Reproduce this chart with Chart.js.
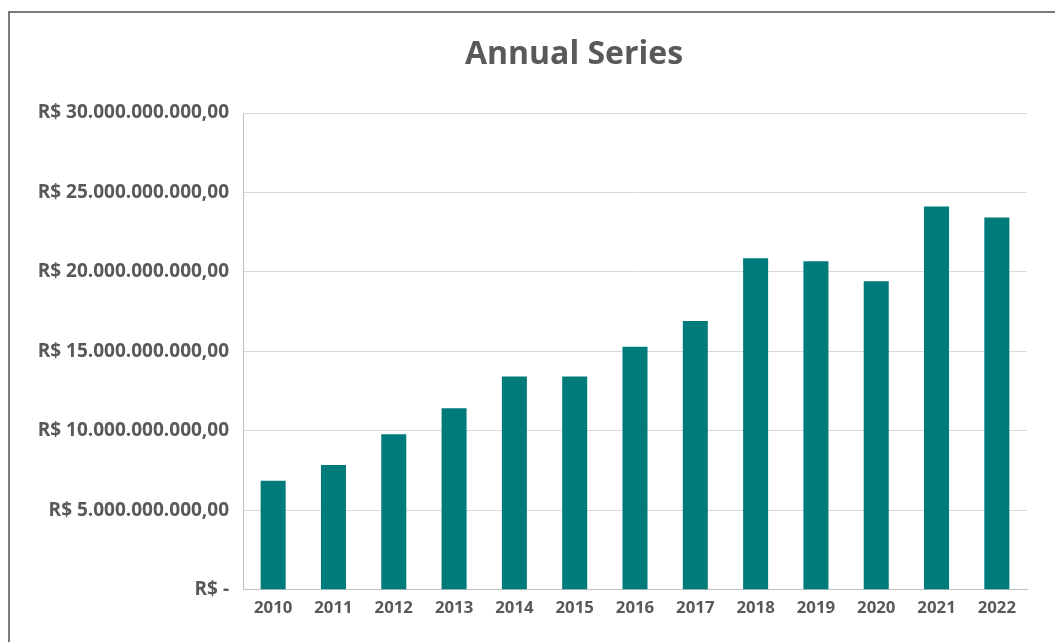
<!DOCTYPE html>
<html>
<head>
<meta charset="utf-8">
<script src="https://cdn.jsdelivr.net/npm/chart.js@4/dist/chart.umd.min.js"></script>
<style>
  html, body { margin: 0; padding: 0; background: #ffffff; }
  #wrap { position: relative; width: 1055px; height: 642px; overflow: hidden; }
  #frame { position: absolute; left: 8px; top: 11px; width: 1100px; height: 700px;
           border-left: 2px solid #7a7a7a; border-top: 2px solid #7a7a7a; box-sizing: border-box; }
  #c { position: absolute; left: 0; top: 0; }
  #title { position: absolute; left: 374px; width: 400px; top: 32px; height: 40px; line-height: 40px;
           text-align: center; font-family: "Open Sans", sans-serif; font-weight: 700; font-size: 32px;
           color: #595959; }
</style>
</head>
<body>
<div id="wrap">
  <div id="frame"></div>
  <canvas id="c" width="1055" height="642"></canvas>
  <div id="title"></div>
</div>
<script>
const categories = ['2010','2011','2012','2013','2014','2015','2016','2017','2018','2019','2020','2021','2022'];
const seriesValues = [6.86e9, 7.86e9, 9.79e9, 11.42e9, 13.42e9, 13.42e9, 15.29e9, 16.92e9, 20.86e9, 20.67e9, 19.42e9, 24.11e9, 23.42e9];
const yTickValues = [0, 5e9, 10e9, 15e9, 20e9, 25e9, 30e9];
const yTickLabels = ['R$ -', 'R$ 5.000.000.000,00', 'R$ 10.000.000.000,00', 'R$ 15.000.000.000,00',
                     'R$ 20.000.000.000,00', 'R$ 25.000.000.000,00', 'R$ 30.000.000.000,00'];
const titleText = 'Annual Series';

document.getElementById('title').textContent = titleText;

const textColor = '#595959';
const fontFamily = '"Open Sans", sans-serif';

new Chart(document.getElementById('c'), {
  type: 'bar',
  data: {
    labels: categories,
    datasets: [{
      data: seriesValues,
      backgroundColor: '#007B7B',
      borderWidth: 0,
      barPercentage: 0.415,
      categoryPercentage: 1.0
    }]
  },
  options: {
    responsive: false,
    animation: false,
    devicePixelRatio: 1,
    layout: { padding: { left: 0, right: 28, top: 113, bottom: 16 } },
    plugins: {
      legend: { display: false },
      tooltip: { enabled: false },
      title: { display: false }
    },
    scales: {
      x: {
        grid: { display: false, drawTicks: false },
        border: { display: true, color: '#bfbfbf', width: 1 },
        ticks: {
          color: textColor,
          padding: 8,
          maxRotation: 0,
          font: { family: fontFamily, size: 16.8, weight: 'bold', lineHeight: 1.2 }
        }
      },
      y: {
        min: 0,
        max: 30e9,
        afterBuildTicks: (scale) => { scale.ticks = yTickValues.map(v => ({ value: v })); },
        afterFit: (scale) => { scale.width = 243; },
        grid: { color: '#d9d9d9', lineWidth: 1, drawTicks: false },
        border: { display: true, color: '#bfbfbf', width: 1 },
        ticks: {
          color: textColor,
          padding: 14,
          font: { family: fontFamily, size: 19, weight: 'bold', lineHeight: 1.2 },
          callback: (value) => {
            const i = yTickValues.indexOf(value);
            return i >= 0 ? yTickLabels[i] : '';
          }
        }
      }
    }
  }
});
</script>
</body>
</html>
